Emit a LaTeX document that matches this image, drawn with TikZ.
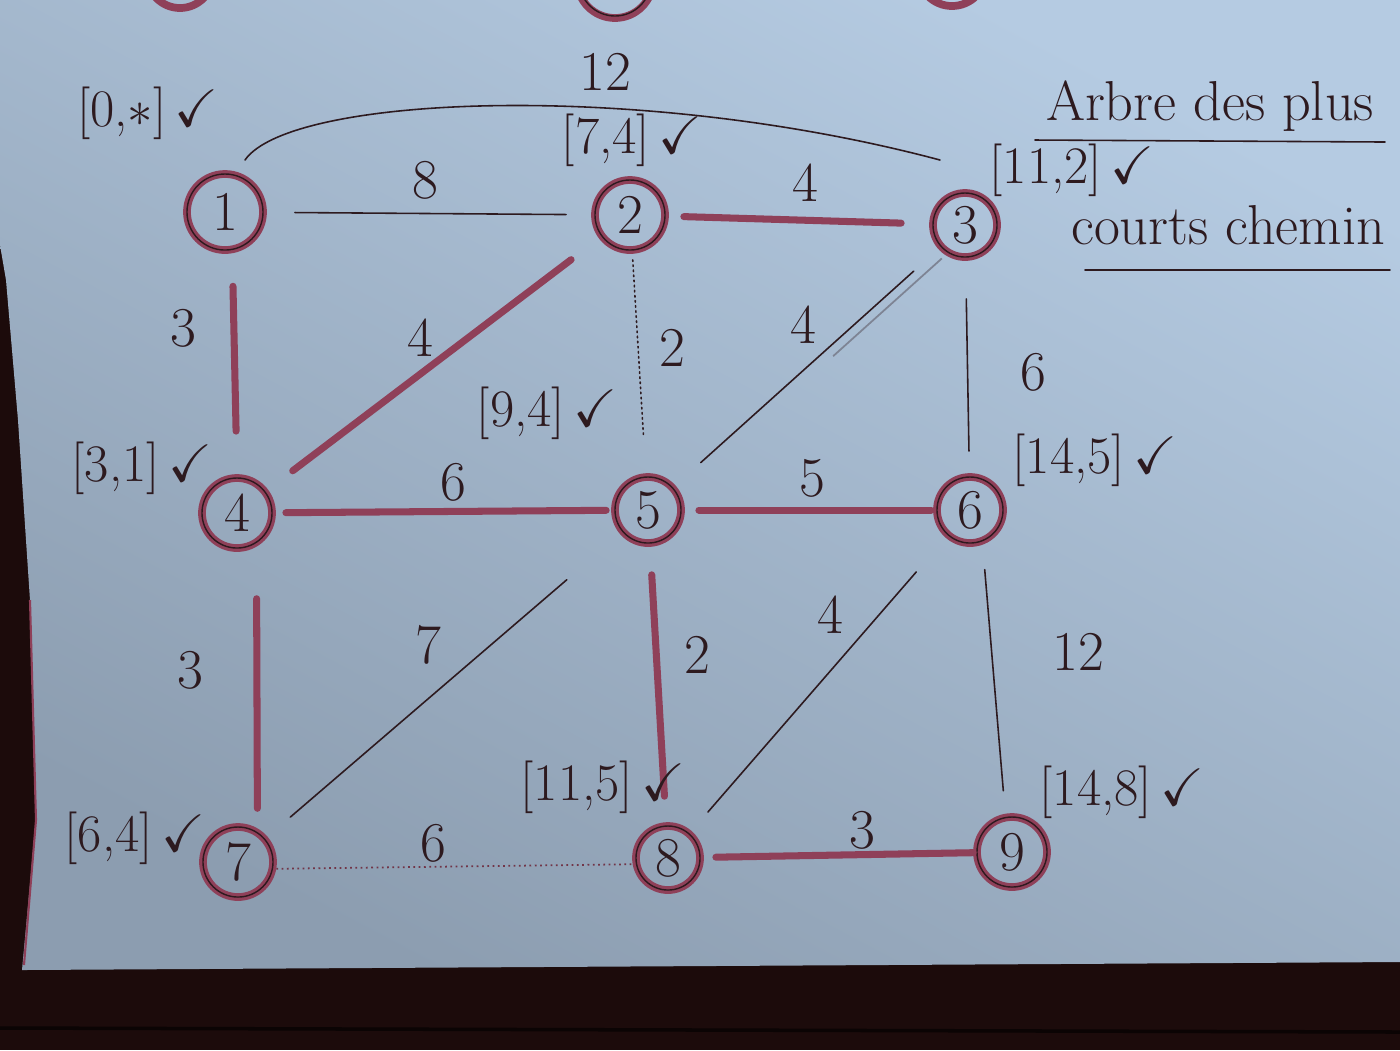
\documentclass[tikz,border=0pt]{standalone}
\usepackage{amssymb}
\definecolor{desk}{HTML}{1C0B0B}
\definecolor{paperlight}{HTML}{B5CBE2}
\definecolor{papergray}{HTML}{8C9DB0}
\definecolor{marker}{HTML}{8F4059}
\definecolor{ink}{HTML}{2D1A1F}
\tikzset{
  vertex/.style={circle, draw=marker, line width=2.2pt, minimum size=#1, inner sep=0pt,
    text=ink, font=\fontsize{16}{18}\selectfont, postaction={draw=ink, line width=0.4pt}},
  vertex/.default=0.68cm,
  treeedge/.style={draw=marker, line width=2pt, line cap=round},
  graphedge/.style={draw=ink, line width=0.45pt, line cap=round},
  weight/.style={text=ink, font=\fontsize{16}{18}\selectfont},
  dist/.style={text=ink, inner sep=0pt, font=\fontsize{15}{18}\selectfont},
  title/.style={text=ink, inner sep=0pt, font=\fontsize{16}{19}\selectfont},
}
\newcommand{\lab}[2]{[#1,#2]$\,\checkmark$}
\begin{document}
\begin{tikzpicture}[x=0.01cm, y=-0.01cm]
    \useasboundingbox (0,0) rectangle (1400,1050);
    \clip (0,0) rectangle (1400,1050);
    \fill[desk] (0,0) rectangle (1400,1050);
    \shade[top color=paperlight, middle color=paperlight!97!papergray, bottom color=papergray, shading angle=-28]
        (0,0) -- (1400,0) -- (1400,962) -- (22,970) -- (36,820) -- (30,600) -- (18,420) -- (6,280) -- (0,245) -- cycle;
    \draw[marker, line width=0.6pt] (30,600) -- (36,820) -- (24,965);
    \draw[black!60!desk, line width=1pt] (0,1028) -- (1400,1032);
    \draw[marker, line width=2.2pt] (180,-25) circle[radius=33];
    \draw[marker, line width=2.2pt] (615,-20) circle[radius=38];
    \draw[ink, line width=0.4pt] (615,-20) circle[radius=36];
    \draw[marker, line width=2.2pt] (952,-28) circle[radius=34];

    \node[vertex=0.76cm] (n1) at (225,212) {1};
    \node[vertex=0.70cm] (n2) at (630,215) {2};
    \node[vertex=0.64cm] (n3) at (965,225) {3};
    \node[vertex=0.70cm] (n4) at (237,513) {4};
    \node[vertex=0.66cm] (n5) at (648,510) {5};
    \node[vertex=0.66cm] (n6) at (970,510) {6};
    \node[vertex=0.70cm] (n7) at (238,862) {7};
    \node[vertex=0.64cm] (n8) at (668,858) {8};
    \node[vertex=0.70cm] (n9) at (1012,852) {9};

    \coordinate (a13) at (245,160);
    \coordinate (b13) at (940,160);
    \draw[graphedge] (a13) .. controls (290,95) and (640,80) .. (b13);
    \draw[graphedge, shorten <=0.28cm, shorten >=0.25cm] (n1) -- (n2);
    \draw[treeedge, shorten <=0.15cm, shorten >=0.28cm] (n2) -- (n3);
    \draw[treeedge, shorten <=0.33cm, shorten >=0.43cm] (n1.-80) -- (n4.north);
    \draw[treeedge, shorten <=0.35cm, shorten >=0.31cm] (n2) -- (n4);
    \draw[graphedge, densely dotted, shorten <=0.06cm, shorten >=0.37cm] (n2) -- (n5);
    \draw[graphedge, shorten <=0.33cm, shorten >=0.34cm] (n3) -- (n5);
    \draw[ink!40!paperlight, line width=0.5pt, shorten <=0.5cm, shorten >=2.3cm] ([xshift=0.14cm]n3.center) -- ([xshift=0.14cm]n5.center);
    \draw[graphedge, shorten <=0.38cm, shorten >=0.22cm] (n3) -- (n6);
    \draw[treeedge, shorten <=0.10cm, shorten >=0.05cm] (n4) -- (n5);
    \draw[treeedge, shorten <=0.14cm, shorten >=0.02cm] (n5) -- (n6);
    \draw[treeedge, shorten <=0.52cm, shorten >=0.2cm] (n4.-60) -- (n7.60);
    \draw[graphedge, shorten <=0.70cm, shorten >=0.30cm] (n5) -- (n7);
    \draw[treeedge, shorten <=0.28cm, shorten >=0.26cm] (n5) -- (n8);
    \draw[graphedge, shorten <=0.45cm, shorten >=0.25cm] (n6) -- (n8);
    \draw[graphedge, shorten <=0.25cm, shorten >=0.23cm] (n6.-70) -- (n9.100);
    \draw[marker!70!ink, line width=0.5pt, densely dotted] (n7.-10) -- (n8.-170);
    \draw[treeedge, shorten <=0.12cm] (n8) -- (n9);

    \node[weight] (w13) at (605,72) {12};
    \node[weight] (w12) at (425,180) {8};
    \node[weight] (w23) at (805,183) {4};
    \node[weight] (w14) at (183,328) {3};
    \node[weight] (w24) at (420,338) {4};
    \node[weight] (w25) at (672,348) {2};
    \node[weight] (w35) at (803,325) {4};
    \node[weight] (w36) at (1033,372) {6};
    \node[weight] (w45) at (453,482) {6};
    \node[weight] (w56) at (812,478) {5};
    \node[weight] (w47) at (190,670) {3};
    \node[weight] (w57) at (428,645) {7};
    \node[weight] (w58) at (697,655) {2};
    \node[weight] (w68) at (830,615) {4};
    \node[weight] (w69) at (1078,652) {12};
    \node[weight] (w78) at (433,843) {6};
    \node[weight] (w89) at (862,830) {3};

    \node[dist] (d1) at (148,113) {\lab{0}{$\ast$}};
    \node[dist] (d2) at (632,140) {\lab{7}{4}};
    \node[dist] (d3) at (1072,170) {\lab{11}{2}};
    \node[dist] (d4) at (142,468) {\lab{3}{1}};
    \node[dist] (d5) at (547,413) {\lab{9}{4}};
    \node[dist] (d6) at (1095,460) {\lab{14}{5}};
    \node[dist] (d7) at (135,838) {\lab{6}{4}};
    \node[dist] (d8) at (603,787) {\lab{11}{5}};
    \node[dist] (d9) at (1122,792) {\lab{14}{8}};

    \node[title] (t1) at (1210,106) {Arbre des plus};
    \draw[graphedge] (1035,140) -- (1385,142);
    \node[title] (t2) at (1228,225) {courts chemin};
    \draw[graphedge] (1085,270) -- (1390,270);
\end{tikzpicture}
\end{document}
